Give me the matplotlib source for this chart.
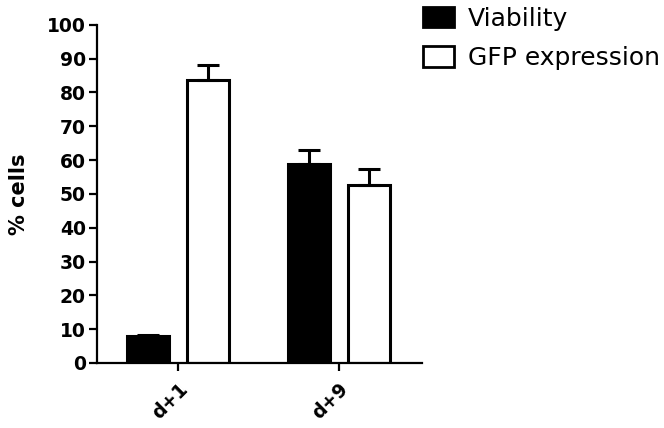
import numpy as np
import matplotlib
matplotlib.use('Agg')
import matplotlib.pyplot as plt
from matplotlib.patches import Patch

# values
groups = ['d+1', 'd+9']
viability = [8.0, 58.8]
viability_err = [0.3, 4.2]
gfp = [83.8, 52.5]
gfp_err = [4.4, 4.8]

def main():
    fig = plt.figure(figsize=(6.64, 4.28), dpi=100)
    ax = fig.add_axes([0.146, 0.152, 0.4895, 0.790])

    x = np.arange(len(groups))
    w = 0.26
    off = 0.185
    err_kw = dict(elinewidth=2.2, capthick=2.2, ecolor='black')

    ax.bar(x - off, viability, w, color='black', edgecolor='black', linewidth=2.2,
           yerr=[np.zeros(len(groups)), viability_err], capsize=8, error_kw=err_kw,
           label='Viability', zorder=2)
    ax.bar(x + off, gfp, w, color='white', edgecolor='black', linewidth=2.2,
           yerr=[np.zeros(len(groups)), gfp_err], capsize=8, error_kw=err_kw,
           label='GFP expression', zorder=2)

    ax.set_xlim(-0.503, 1.516)
    ax.set_ylim(0, 100)
    ax.set_yticks(np.arange(0, 101, 10))
    ax.set_xticks(x)
    ax.set_xticklabels(groups, rotation=45, ha='right', rotation_mode='anchor',
                       fontsize=13.5, fontweight='bold')
    for lab in ax.get_yticklabels():
        lab.set_fontsize(13.5)
        lab.set_fontweight('bold')

    for s in ['top', 'right']:
        ax.spines[s].set_visible(False)
    for s in ['left', 'bottom']:
        ax.spines[s].set_linewidth(1.6)
    ax.tick_params(axis='both', width=1.6, length=6, direction='out')
    ax.tick_params(axis='y', pad=2)
    ax.tick_params(axis='x', pad=6)

    ax.set_ylabel('% cells', fontsize=15, fontweight='bold', labelpad=13)

    handles = [Patch(facecolor='black', edgecolor='black', linewidth=2),
               Patch(facecolor='white', edgecolor='black', linewidth=2)]
    fig.legend(handles, ['Viability', 'GFP expression'], loc='upper left',
               bbox_to_anchor=(0.6185, 1.014), frameon=False, fontsize=18,
               handlelength=1.24, handleheight=0.88, handletextpad=0.56,
               labelspacing=0.62, borderpad=0.0)

    plt.savefig('out.png', dpi=100)

if __name__ == "__main__":
    main()
